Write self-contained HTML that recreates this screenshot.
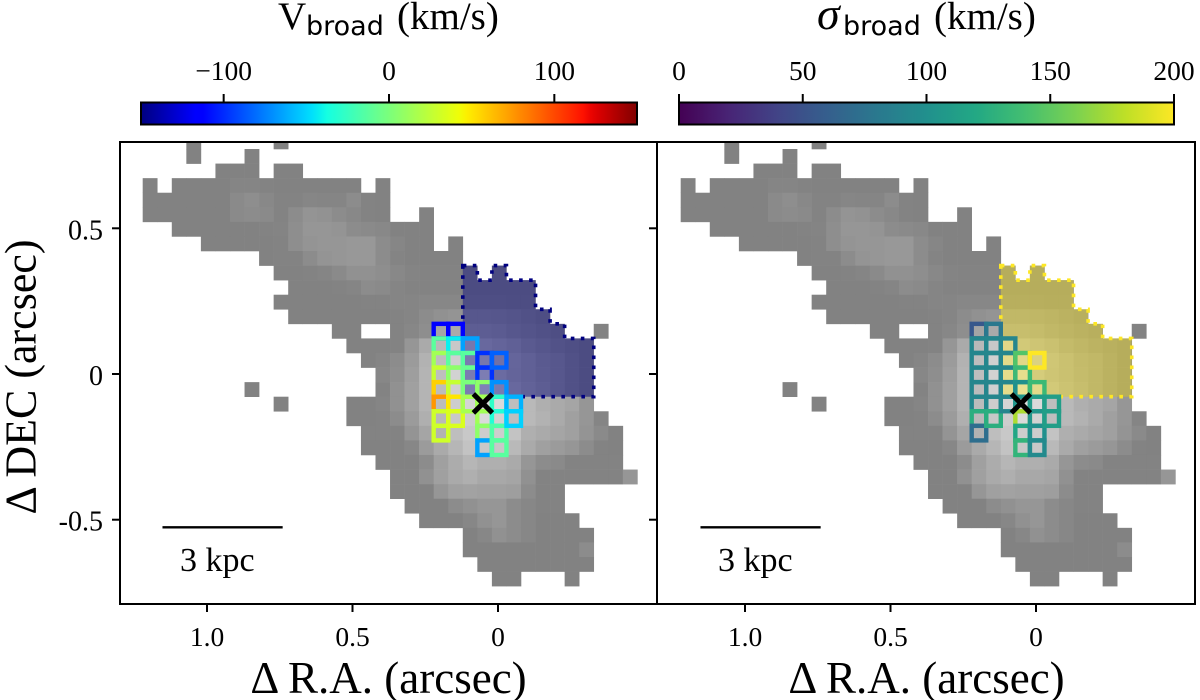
<!DOCTYPE html>
<html lang="en">
<head>
<meta charset="utf-8">
<title>Broad component velocity and dispersion maps</title>
<style>
html,body{margin:0;padding:0;background:#fff;}
svg{display:block;}
text{font-family:"Liberation Serif",serif;fill:#000;}
.sub{font-family:"DejaVu Sans",sans-serif;}
</style>
</head>
<body>
<svg id="figure" width="1200" height="700" viewBox="0 0 1200 700" xmlns="http://www.w3.org/2000/svg">
  <defs>
    <clipPath id="clip-left"><rect x="120" y="142" width="537" height="462"/></clipPath>
    <clipPath id="clip-right"><rect x="657" y="142" width="538" height="462"/></clipPath>
  </defs>
  <g id="panels"></g>
  <g id="colorbars"></g>
  <text y="29" font-size="39"><tspan x="278">V</tspan><tspan class="sub" x="306" dy="6" font-size="27">broad</tspan><tspan x="397" dy="-6">(km/s)</tspan></text>
  <text y="29" font-size="39"><tspan x="817" font-style="italic" font-size="46">σ</tspan><tspan class="sub" x="843" dy="6" font-size="27">broad</tspan><tspan x="934" dy="-6">(km/s)</tspan></text>
  <text transform="translate(35.5 377) rotate(-90)" text-anchor="middle" font-size="44">Δ DEC (arcsec)</text>
  <text x="388.5" y="693" text-anchor="middle" font-size="45">Δ R.A. (arcsec)</text>
  <text x="926.5" y="693" text-anchor="middle" font-size="45">Δ R.A. (arcsec)</text>
</svg>
<script>
// Tick values and labels
const raTicks = [1.0, 0.5, 0];
const raTickLabels = ["1.0", "0.5", "0"];
const decTicks = [0.5, 0, -0.5];
const decTickLabels = ["0.5", "0", "-0.5"];
const velocityTicks = [-100, 0, 100];
const velocityTickLabels = ["\u2212100", "0", "100"];
const sigmaTicks = [0, 50, 100, 150, 200];
const sigmaTickLabels = ["0", "50", "100", "150", "200"];
const velocityRange = [-150, 150];
const sigmaRange = [0, 200];

// Flux image, one row per spaxel row from the top, 0 = no data
const fluxRows = [
[0,0,0,130,0,0,0,0,0,130],
[0,0,0,130,0,0,0,130],
[0,0,0,0,0,130,130,130,0,130,130],
[130,0,130,130,130,130,133,133,131,130,130,130,130,130,130,0,130],
[130,130,130,130,130,130,138,142,136,131,131,134,133,133,140,131,130],
[130,130,130,130,130,130,138,140,138,131,140,148,146,140,136,131,130,0,0,130],
[0,0,130,130,130,130,130,130,131,132,142,150,150,148,140,138,136,130,130,130],
[0,0,0,0,130,130,130,130,130,131,142,148,150,150,152,152,140,134,130,130,0,130],
[0,0,0,0,0,0,0,0,130,131,131,140,148,150,152,152,140,132,130,130,130,130],
[0,0,0,0,0,0,0,0,0,130,130,131,133,138,145,145,142,136,132,131,131,131,131,0,131],
[0,0,0,0,0,0,0,0,0,0,130,130,130,131,133,140,138,133,131,131,131,131,131,131,131,131,131],
[0,0,0,0,0,0,0,0,0,130,130,130,130,130,130,131,131,133,133,135,135,135,135,135,135,133,133],
[0,0,0,0,0,0,0,0,0,0,130,130,130,130,130,130,130,131,133,140,145,148,150,150,148,145,140,135],
[0,0,0,0,0,0,0,0,0,0,0,0,0,130,130,0,0,131,135,142,165,170,160,160,158,150,145,140,135,0,0,131],
[0,0,0,0,0,0,0,0,0,0,0,0,0,0,130,130,130,131,150,170,185,200,205,180,172,165,155,148,142,136,132],
[0,0,0,0,0,0,0,0,0,0,0,0,0,0,0,130,133,140,155,178,190,208,210,205,195,175,165,155,150,140,132],
[0,0,0,0,0,0,0,0,0,0,0,0,0,0,0,0,135,142,158,180,190,210,212,215,185,172,165,158,150,140,132],
[0,0,0,0,0,0,0,130,0,0,0,0,0,0,0,0,131,145,160,180,188,208,212,220,210,180,170,160,150,140,132],
[0,0,0,0,0,0,0,0,0,130,0,0,0,0,130,130,133,145,160,180,188,205,212,220,218,190,185,175,170,165,150],
[0,0,0,0,0,0,0,0,0,0,0,0,0,0,130,130,131,140,155,175,185,200,205,218,210,190,185,178,170,160,150,133],
[0,0,0,0,0,0,0,0,0,0,0,0,0,0,0,131,131,131,148,165,178,190,200,205,205,195,175,170,165,160,148,138,130],
[0,0,0,0,0,0,0,0,0,0,0,0,0,0,0,130,130,130,135,155,170,182,195,200,200,185,170,160,155,150,140,131,130],
[0,0,0,0,0,0,0,0,0,0,0,0,0,0,0,0,130,130,130,140,160,172,182,175,175,170,150,140,138,131,131,131,131],
[0,0,0,0,0,0,0,0,0,0,0,0,0,0,0,0,0,130,130,145,160,170,175,168,168,165,145,131,131,131,131,131,131,150],
[0,0,0,0,0,0,0,0,0,0,0,0,0,0,0,0,0,130,130,130,150,160,162,160,160,158,140,131,131],
[0,0,0,0,0,0,0,0,0,0,0,0,0,0,0,0,0,0,130,130,130,140,145,150,150,140,135,131,131],
[0,0,0,0,0,0,0,0,0,0,0,0,0,0,0,0,0,0,0,130,130,130,135,145,150,140,135,130,130,130],
[0,0,0,0,0,0,0,0,0,0,0,0,0,0,0,0,0,0,0,0,0,0,130,135,145,140,135,130,130,130,130],
[0,0,0,0,0,0,0,0,0,0,0,0,0,0,0,0,0,0,0,0,0,0,130,130,130,130,130,130,130,130,140],
[0,0,0,0,0,0,0,0,0,0,0,0,0,0,0,0,0,0,0,0,0,0,0,130,130,130,130,130,130,130,130],
[0,0,0,0,0,0,0,0,0,0,0,0,0,0,0,0,0,0,0,0,0,0,0,0,130,130,0,0,0,130]
];
const firstFluxRow = -1;

// Spaxels carrying a broad component
const broadCols = [20,20,20,20,20,20,20,20,21,21,21,21,21,21,21,22,22,22,22,22,23,23,23,23,23,23,23,24,24,24,24,24,24,25,25];
const broadRows = [12,13,14,15,16,17,18,19,12,13,14,15,16,17,18,13,14,15,16,17,14,15,16,17,18,19,20,14,16,17,18,19,20,17,18];
const broadVelocity = [-115,-12,14,27,57,75,30,30,-115,-42,-12,7,27,50,34,-65,-13,-7,0,16,-98,-98,7,14,14,7,-65,-84,-70,-28,-33,-16,-13,-60,-51];
const broadSigma = [55,92,92,92,92,92,125,72,80,92,92,92,92,92,125,92,92,92,92,92,145,135,100,105,175,118,130,200,135,110,105,100,95,112,112];

// Outflow region outline, in spaxel edge indices (col, row)
const regionCols = [22,23,23,24,24,25,25,27,27,28,28,29,29,31,31,22];
const regionRows = [8,8,9,9,8,8,9,9,11,11,12,12,13,13,17,17];
const regionVelocity = -150;
const regionSigma = 200;

// Marker and scale bar in sky coordinates
const nucleusRa = 0.052;
const nucleusDec = -0.101;
const scaleBarRa = [1.153, 0.74];
const scaleBarDec = -0.526;

// Axis functions
const raToPx = ra => 498 - 291 * ra;
const decToPx = dec => 374 - 291.4 * dec;
const colToRa = col => 1.2210 - 0.05 * col;
const rowToDec = row => 0.7721 - 0.05 * row;
const colToPx = col => raToPx(colToRa(col));
const rowToPx = row => decToPx(rowToDec(row));

// Colormaps
function interp(points, t) {
  if (t <= points[0][0]) return points[0][1];
  for (let i = 1; i < points.length; i++) {
    if (t <= points[i][0]) {
      const a = points[i-1], b = points[i];
      return a[1] + (b[1]-a[1]) * (t-a[0]) / (b[0]-a[0]);
    }
  }
  return points[points.length-1][1];
}
const jetR = [[0,0],[0.35,0],[0.66,1],[0.89,1],[1,0.5]];
const jetG = [[0,0],[0.125,0],[0.375,1],[0.64,1],[0.91,0],[1,0]];
const jetB = [[0,0.5],[0.11,1],[0.34,1],[0.65,0],[1,0]];
const jet = t => 'rgb(' + [jetR,jetG,jetB].map(c => Math.round(255*interp(c,t))).join(',') + ')';
const viridisColors = ['#440154','#482475','#414487','#355f8d','#2a788e','#21908d','#22a884','#44bf70','#7ad151','#bddf26','#fde725'];
function hexRgb(h){return [1,3,5].map(i=>parseInt(h.substr(i,2),16));}
function viridis(t){
  const p = Math.max(0,Math.min(1,t))*(viridisColors.length-1);
  const i = Math.min(Math.floor(p),viridisColors.length-2);
  const a = hexRgb(viridisColors[i]), b = hexRgb(viridisColors[i+1]);
  return 'rgb(' + a.map((v,k)=>Math.round(v+(b[k]-v)*(p-i))).join(',') + ')';
}

const NS = 'http://www.w3.org/2000/svg';
function mk(tag, attrs, parent) {
  const el = document.createElementNS(NS, tag);
  for (const k in attrs) el.setAttribute(k, attrs[k]);
  parent.appendChild(el);
  return el;
}

const panelsRoot = document.getElementById('panels');

function drawPanel(name, offset, left, right, clipId, values, range, cmap, regionValue, drawYLabels) {
  const panel = mk('g', {}, panelsRoot);
  
  
  const norm = v => (v - range[0]) / (range[1] - range[0]);

  const image = mk('g', {'clip-path': 'url(#' + clipId + ')'}, panel);
  
  
  fluxRows.forEach((row, ri) => {
    row.forEach((v, ci) => {
      if (!v) return;
      const r = ri + firstFluxRow;
      const x0 = colToPx(ci) + offset, x1 = colToPx(ci + 1) + offset;
      const y0 = rowToPx(r), y1 = rowToPx(r + 1);
      const cell = mk('rect', {x: x0, y: y0, width: x1 - x0 + 0.3, height: y1 - y0 + 0.3, fill: 'rgb(' + v + ',' + v + ',' + v + ')'}, image);
      
      
    });
  });

  const pts = regionCols.map((c, i) => (colToPx(c) + offset) + ',' + rowToPx(regionRows[i])).join(' ');
  const regionColor = cmap(norm(regionValue));
  const fill = mk('polygon', {points: pts, fill: regionColor, 'fill-opacity': 0.42, stroke: 'none'}, panel);
  
  
  const outline = mk('polygon', {points: pts, fill: 'none', stroke: regionColor, 'stroke-width': 3.6, 'stroke-dasharray': '3.6 6.4'}, panel);
  
  

  broadCols.forEach((c, i) => {
    const r = broadRows[i];
    const x0 = colToPx(c) + offset, x1 = colToPx(c + 1) + offset;
    const y0 = rowToPx(r), y1 = rowToPx(r + 1);
    const sq = mk('rect', {x: x0, y: y0, width: x1 - x0, height: y1 - y0, fill: 'none', stroke: cmap(norm(values[i])), 'stroke-width': 4.4}, panel);
    
    
  });

  const mx = raToPx(nucleusRa) + offset, my = decToPx(nucleusDec), h = 9.5;
  const marker = mk('path', {d: 'M' + (mx-h) + ' ' + (my-h) + 'L' + (mx+h) + ' ' + (my+h) + 'M' + (mx-h) + ' ' + (my+h) + 'L' + (mx+h) + ' ' + (my-h), stroke: '#000', 'stroke-width': 5, fill: 'none'}, panel);
  
  

  const bar = mk('line', {x1: raToPx(scaleBarRa[0]) + offset, x2: raToPx(scaleBarRa[1]) + offset, y1: decToPx(scaleBarDec), y2: decToPx(scaleBarDec), stroke: '#000', 'stroke-width': 2.4}, panel);
  
  
  const barLabel = mk('text', {x: raToPx(scaleBarRa[0]) + offset + 17.5, y: 571, 'font-size': 34}, panel);
  barLabel.textContent = '3 kpc';
  
  

  const frame = mk('rect', {x: left, y: 142, width: right - left, height: 462, fill: 'none', stroke: '#000', 'stroke-width': 2}, panel);
  
  

  raTicks.forEach((t, i) => {
    const x = raToPx(t) + offset;
    const tick = mk('line', {x1: x, x2: x, y1: 604, y2: 612, stroke: '#000', 'stroke-width': 2}, panel);
    
    
    const lab = mk('text', {x: x, y: 646, 'text-anchor': 'middle', 'font-size': 27.5}, panel);
    lab.textContent = raTickLabels[i];
    
    
  });
  decTicks.forEach((t, i) => {
    const y = decToPx(t);
    const tick = mk('line', {x1: left - 8, x2: left, y1: y, y2: y, stroke: '#000', 'stroke-width': 2}, panel);
    
    
    if (drawYLabels) {
      const lab = mk('text', {x: 103, y: y + 11, 'text-anchor': 'end', 'font-size': 28}, panel);
      lab.textContent = decTickLabels[i];
      
      
    }
  });
}

drawPanel('velocity', 0, 120, 657, 'clip-left', broadVelocity, velocityRange, jet, regionVelocity, true);
drawPanel('sigma', 538, 657, 1195, 'clip-right', broadSigma, sigmaRange, viridis, regionSigma, false);

const defs = document.querySelector('defs');
const barsRoot = document.getElementById('colorbars');
function drawColorbar(name, x0, x1, range, ticks, labels, cmap) {
  const g = mk('g', {}, barsRoot);
  
  
  const grad = mk('linearGradient', {id: 'grad-' + name, x1: 0, x2: 1, y1: 0, y2: 0}, defs);
  for (let i = 0; i <= 64; i++) {
    mk('stop', {offset: (i / 64), 'stop-color': cmap(i / 64)}, grad);
  }
  const scale = v => x0 + (x1 - x0) * (v - range[0]) / (range[1] - range[0]);
  const rect = mk('rect', {x: x0, y: 102.5, width: x1 - x0, height: 22, fill: 'url(#grad-' + name + ')', stroke: '#000', 'stroke-width': 2}, g);
  
  
  ticks.forEach((t, i) => {
    const x = scale(t);
    const tick = mk('line', {x1: x, x2: x, y1: 94, y2: 102.5, stroke: '#000', 'stroke-width': 2}, g);
    
    
    const lab = mk('text', {x: x, y: 80, 'text-anchor': 'middle', 'font-size': 27.5}, g);
    lab.textContent = labels[i];
    
    
  });
}
drawColorbar('velocity', 141, 637, velocityRange, velocityTicks, velocityTickLabels, jet);
drawColorbar('sigma', 679, 1174, sigmaRange, sigmaTicks, sigmaTickLabels, viridis);
</script>
</body>
</html>
